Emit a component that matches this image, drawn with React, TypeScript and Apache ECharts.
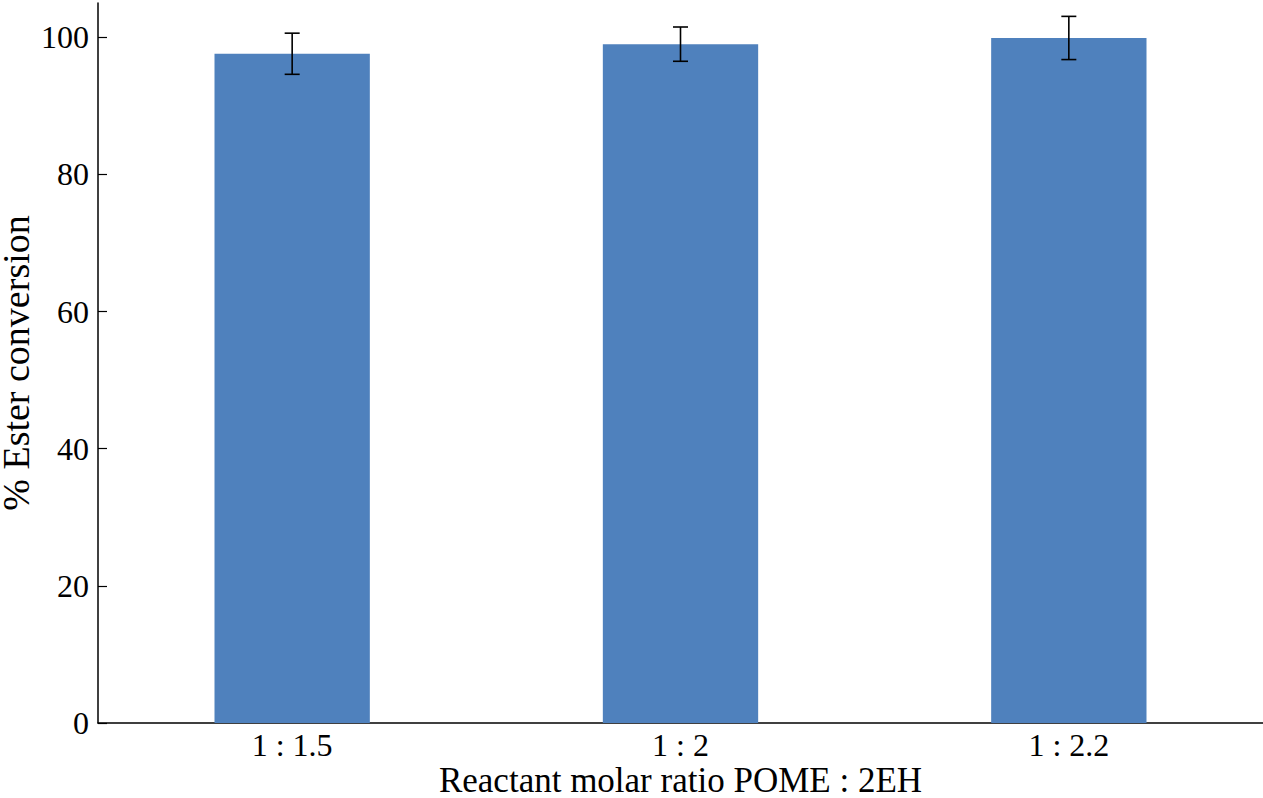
import React, { useEffect, useRef } from "react";
import * as echarts from "echarts";

const categories = ["1 : 1.5", "1 : 2", "1 : 2.2"];
const conversion = [97.6, 99.0, 99.9];
const errorValues = [3.0, 2.5, 3.15];
const yTicks = [0, 20, 40, 60, 80, 100];

const FONT = "'Times New Roman', 'Liberation Serif', serif";

export default function App() {
  const ref = useRef<HTMLDivElement>(null);

  useEffect(() => {
    if (!ref.current) return;
    const chart = echarts.init(ref.current, undefined, { renderer: "svg" });
    const errData = categories.map((_, i) => [i, conversion[i] - errorValues[i], conversion[i] + errorValues[i]]);
    chart.setOption({
      animation: false,
      backgroundColor: "#ffffff",
      grid: { left: 98, right: 0, top: 3, bottom: 75, containLabel: false, outerBoundsMode: "none" },
      xAxis: {
        type: "category",
        data: categories,
        name: "Reactant molar ratio POME : 2EH",
        nameLocation: "middle",
        nameGap: 40,
        nameMoveOverlap: false,
        nameTextStyle: { fontFamily: FONT, fontSize: 35, color: "#000" },
        axisLine: { lineStyle: { color: "#000", width: 1.5 } },
        axisTick: { inside: true, length: 10, alignWithLabel: false, lineStyle: { color: "#000", width: 1.2 } },
        axisLabel: { fontFamily: FONT, fontSize: 32, color: "#000", margin: 6 },
        splitLine: { show: false },
      },
      yAxis: {
        type: "value",
        min: 0,
        max: 105,
        interval: 20,
        name: "% Ester conversion",
        nameLocation: "middle",
        nameGap: 63,
        nameMoveOverlap: false,
        nameTextStyle: { fontFamily: FONT, fontSize: 38, color: "#000" },
        axisLine: { show: true, lineStyle: { color: "#000", width: 1.5 } },
        axisTick: { show: true, inside: true, length: 9, customValues: yTicks, lineStyle: { color: "#000", width: 1.2 } },
        axisLabel: { fontFamily: FONT, fontSize: 32, color: "#000", margin: 9, customValues: yTicks },
        splitLine: { show: false },
      },
      series: [
        {
          type: "bar",
          data: conversion,
          barWidth: "40%",
          itemStyle: { color: "#4F81BD" },
        },
        {
          type: "custom",
          data: errData,
          z: 10,
          renderItem: (params: any, api: any) => {
            const x = api.value(0);
            const lo = api.coord([x, api.value(1)]);
            const hi = api.coord([x, api.value(2)]);
            const hw = 7.5;
            const style = { stroke: "#000", lineWidth: 1.6 };
            return {
              type: "group",
              children: [
                { type: "line", shape: { x1: hi[0], y1: hi[1], x2: lo[0], y2: lo[1] }, style },
                { type: "line", shape: { x1: hi[0] - hw, y1: hi[1], x2: hi[0] + hw, y2: hi[1] }, style },
                { type: "line", shape: { x1: lo[0] - hw, y1: lo[1], x2: lo[0] + hw, y2: lo[1] }, style },
              ],
            };
          },
        },
      ],
    });
    return () => chart.dispose();
  }, []);

  return (
    <div
      ref={ref}
      style={{ position: "absolute", left: 0, top: 0, width: 1263, height: 798, background: "#fff" }}
    />
  );
}
